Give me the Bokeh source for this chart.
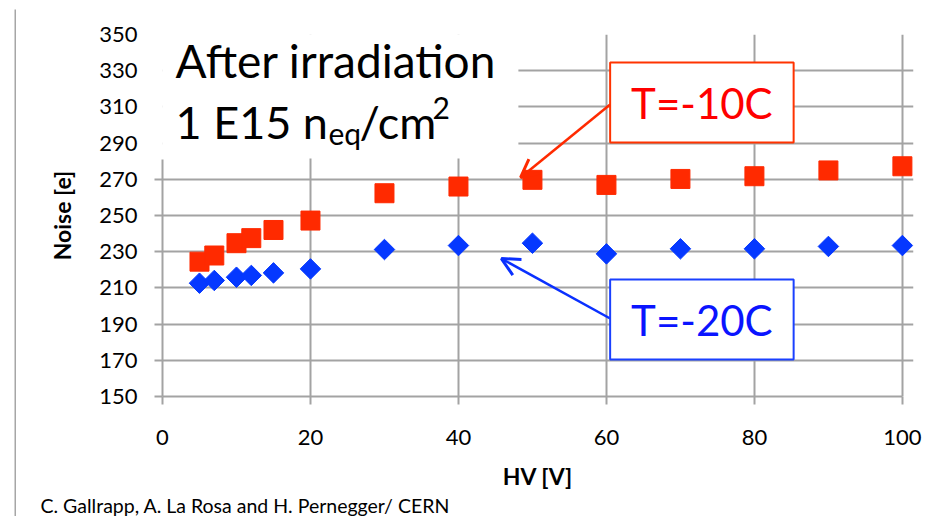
import numpy as np
from bokeh.plotting import figure
from bokeh.layouts import column, row
from bokeh.models import Range1d, FixedTicker, Label, BoxAnnotation, Arrow, OpenHead, LinearAxis
from bokeh.embed import file_html
from bokeh.resources import INLINE

# ---- data ----
hv = [5, 7, 10, 12, 15, 20, 30, 40, 50, 60, 70, 80, 90, 100]
noise_m10 = [224.5, 227.9, 234.7, 237.5, 242.0, 247.2, 262.3, 266.0, 269.7, 266.9, 270.2, 271.7, 274.9, 277.2]
noise_m20 = [212.6, 214.1, 215.9, 216.9, 218.3, 220.5, 231.2, 233.4, 234.7, 228.8, 231.6, 231.6, 232.9, 233.4]
x_ticks = [0, 20, 40, 60, 80, 100]
y_ticks = [150, 170, 190, 210, 230, 250, 270, 290, 310, 330, 350]

FONT = "Lato"
GRID = "#a3a3a3"
RED = "#ff2a00"
BLUE = "#0538ff"
FRAME = "#a6a6a6"

p = figure(width=931, height=483, output_backend="svg", toolbar_location=None,
           x_range=Range1d(0, 101.5), y_range=Range1d(150, 350),
           min_border_left=146, min_border_right=34, min_border_top=25, min_border_bottom=96,
           background_fill_color="white", border_fill_color="white")
p.outline_line_color = None
p.frame_align = False

p.xaxis.ticker = FixedTicker(ticks=x_ticks)
p.xgrid.ticker = FixedTicker(ticks=x_ticks)
p.ygrid.ticker = FixedTicker(ticks=y_ticks)
for g in (p.xgrid[0], p.ygrid[0]):
    g.grid_line_color = GRID
    g.grid_line_width = 2
p.ygrid.bounds = (0, 100)

# inner y axis: line + tick marks only (the part under the title box is hidden)
ya = p.yaxis[0]
ya.ticker = FixedTicker(ticks=[t for t in y_ticks if t <= 270])
ya.bounds = (150, 281)
ya.major_label_overrides = {float(t): "" for t in y_ticks}
ya.major_label_standoff = 0
# outer y axis: labels only
yb = LinearAxis(ticker=FixedTicker(ticks=y_ticks), axis_line_color=None,
                major_tick_out=0, major_tick_in=0, minor_tick_line_color=None,
                major_tick_line_color=None)
p.add_layout(yb, "left")

p.xaxis.bounds = (0, 100)
for ax in (p.xaxis[0], ya, yb):
    ax.major_label_text_font = FONT
    ax.major_label_text_font_size = "22px"
    ax.major_label_text_color = "black"
    ax.axis_label_text_font = FONT
    ax.axis_label_text_font_style = "bold"
    ax.axis_label_text_font_size = "23px"
    ax.axis_label_text_color = "black"
for ax in (p.xaxis[0], ya):
    ax.axis_line_color = GRID
    ax.axis_line_width = 2
    ax.major_tick_line_color = GRID
    ax.major_tick_line_width = 2
    ax.major_tick_out = 8
    ax.major_tick_in = 0
    ax.minor_tick_line_color = None
p.xaxis.axis_label = "HV [V]"
yb.axis_label = "Noise [e]"
yb.major_label_standoff = 17
yb.axis_label_standoff = 20
p.xaxis.major_label_standoff = 25
p.xaxis.axis_label_standoff = 14

p.scatter(hv, noise_m10, marker="square", size=19, fill_color=RED, line_color=RED)
p.scatter(hv, noise_m20, marker="square", angle=np.pi / 4, size=14.5, fill_color=BLUE, line_color=BLUE)

# title box covering grid
p.add_layout(BoxAnnotation(left=-1.6, right=48.1, bottom=281.5, top=360,
                           fill_color="white", fill_alpha=1, line_color=None))
p.add_layout(Label(x=1.76, y=326.2, y_offset=17, text="After irradiation", text_font=FONT,
                   text_font_size="46px", text_color="black", text_baseline="alphabetic"))
base_x, base_y = 1.76, 292.8
for txt, dx, dy, fs in [("1 E15 n", 0, 16, "45px"), ("eq", 153, 5, "30px"),
                        ("/cm", 184, 16, "45px"), ("2", 257, 30, "30px")]:
    p.add_layout(Label(x=base_x, y=base_y, x_offset=dx, y_offset=dy, text=txt, text_font=FONT,
                       text_font_size=fs, text_color="black", text_baseline="alphabetic"))

# arrows
p.add_layout(Arrow(end=OpenHead(size=18, line_color="#ff2a00", line_width=3),
                   x_start=60.5, y_start=311.3, x_end=48.4, y_end=271.0,
                   line_color="#ff2a00", line_width=2.5))
p.add_layout(Arrow(end=OpenHead(size=18, line_color="#0a30ff", line_width=3),
                   x_start=60.5, y_start=193.1, x_end=45.8, y_end=226.2,
                   line_color="#0a30ff", line_width=2.5))

# annotation boxes
p.add_layout(BoxAnnotation(left=60.5, right=85.3, bottom=290.3, top=334.5,
                           fill_color="white", fill_alpha=1, line_color="#ff3300", line_width=2, line_alpha=1))
p.add_layout(Label(x=72.9, y=312.4, text="T=-10C", text_align="center", text_baseline="middle",
                   text_font=FONT, text_font_size="42px", text_color="#ff0000"))
p.add_layout(BoxAnnotation(left=60.5, right=85.3, bottom=170.4, top=214.6,
                           fill_color="white", fill_alpha=1, line_color="#1a40ff", line_width=2, line_alpha=1))
p.add_layout(Label(x=72.9, y=192.5, text="T=-20C", text_align="center", text_baseline="middle",
                   text_font=FONT, text_font_size="42px", text_color="#0a14ff"))


def strip(w, h, color):
    s = figure(width=w, height=h, output_backend="svg", toolbar_location=None,
               x_axis_type=None, y_axis_type=None,
               min_border_left=0, min_border_right=0, min_border_top=0, min_border_bottom=0,
               background_fill_color=color, border_fill_color=color)
    s.grid.visible = False
    s.outline_line_color = None
    s.frame_align = False
    return s


# footer strip
f2 = strip(931, 24, "white")
f2.x_range = Range1d(0, 931)
f2.y_range = Range1d(0, 24)
f2.add_layout(Label(x=24, y=11.5, text="C. Gallrapp, A. La Rosa and H. Pernegger/ CERN",
                    text_font=FONT, text_font_size="19.5px", text_color="black", text_baseline="alphabetic"))

# outer chart frame edges (top and left)
top_edge = strip(933, 2, FRAME)
left_edge = strip(2, 507, FRAME)

layout = column(top_edge, row(left_edge, column(p, f2, spacing=0), spacing=0), spacing=0)
layout.styles = {"margin-left": "14px", "margin-top": "7px"}

open("out.html", "w").write(file_html(layout, INLINE))
